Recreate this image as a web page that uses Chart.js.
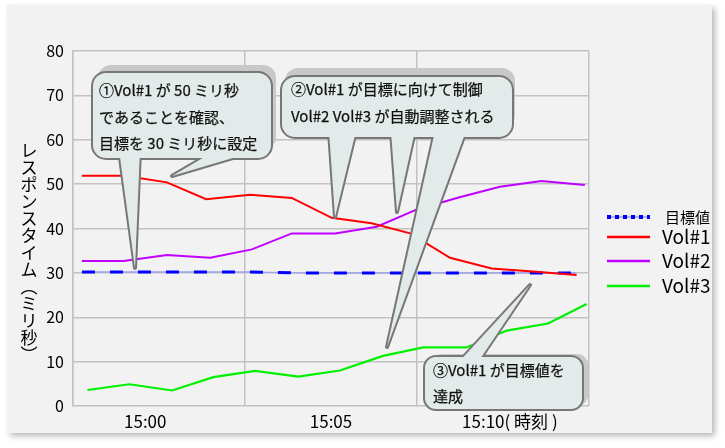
<!DOCTYPE html>
<html lang="ja">
<head>
<meta charset="utf-8">
<script src="https://cdn.jsdelivr.net/npm/chart.js@4.4.1/dist/chart.umd.min.js"></script>
<style>
    html, body { margin: 0; padding: 0; background: #ffffff; }
    #wrap { width: 725px; height: 448px; position: relative; }
</style>
</head>
<body>
<div id="wrap"><canvas id="grafico" width="725" height="448"></canvas></div>
<script>
// ---- datos ----
const timeLabels = ['15:00', '15:05', '15:10( 時刻 )'];
const timeLabelMinutes = [2.1, 7.5, 12.7];
const gridMinutes = [0, 5, 10, 15];
const yTicks = [0, 10, 20, 30, 40, 50, 60, 70, 80];

const seriesNames = ['目標値', 'Vol#1', 'Vol#2', 'Vol#3'];

const minutesTarget = [0.26, 1.49, 2.73, 3.87, 5.15, 6.36, 7.52, 8.68, 9.80, 10.96, 12.17, 13.37, 14.64];
const target = [30.2, 30.2, 30.2, 30.2, 30.2, 30.0, 30.0, 30.0, 30.0, 30.0, 30.0, 30.0, 30.0];

const minutesVol1 = [0.26, 1.49, 2.73, 3.87, 5.15, 6.36, 7.52, 8.68, 9.80, 10.96, 12.17, 13.37, 14.64];
const vol1 = [51.9, 51.9, 50.4, 46.6, 47.6, 46.9, 42.4, 41.2, 38.9, 33.4, 31.0, 30.3, 29.5];

const minutesVol2 = [0.26, 1.47, 2.73, 3.99, 5.20, 6.36, 7.62, 8.83, 10.00, 11.21, 12.41, 13.62, 14.88];
const vol2 = [32.7, 32.7, 34.0, 33.4, 35.3, 38.9, 38.9, 40.4, 44.3, 47.0, 49.4, 50.7, 49.8];

const minutesVol3 = [0.42, 1.64, 2.88, 4.08, 5.29, 6.55, 7.76, 9.01, 10.18, 11.44, 12.61, 13.81, 14.93];
const vol3 = [3.6, 4.9, 3.5, 6.5, 7.9, 6.6, 8.0, 11.3, 13.2, 13.2, 17.0, 18.6, 23.0];

const yTitle = 'レスポンスタイム（ミリ秒）';
const note1 = ['①Vol#1 が 50 ミリ秒', 'であることを確認、', '目標を 30 ミリ秒に設定'];
const note2 = ['②Vol#1 が目標に向けて制御', 'Vol#2 Vol#3 が自動調整される'];
const note3 = ['③Vol#1 が目標値を', '達成'];

const FONT = '"Noto Sans CJK JP", "Noto Sans", sans-serif';
const GRID = '#c2c2c2';

// convierte dos listas en puntos {x, y}
function puntos(xs, ys) {
    return xs.map((x, i) => ({ x: x, y: ys[i] }));
}

// fondo del panel con sombra
const panelPlugin = {
    id: 'panel',
    beforeDraw(chart) {
        const ctx = chart.ctx;
        ctx.save();
        ctx.fillStyle = '#ffffff';
        ctx.fillRect(0, 0, chart.width, chart.height);
        ctx.shadowColor = 'rgba(0,0,0,0.28)';
        ctx.shadowBlur = 6;
        ctx.shadowOffsetX = 3;
        ctx.shadowOffsetY = 3;
        ctx.fillStyle = '#f2f2f2';
        ctx.fillRect(7, 5, 705, 428);
        ctx.restore();
    }
};

// título vertical del eje Y (caracteres en pie)
const yTitlePlugin = {
    id: 'yTitle',
    afterDraw(chart) {
        const ctx = chart.ctx;
        const verticales = { '（': '\uFE35', '）': '\uFE36' };
        ctx.save();
        ctx.fillStyle = '#000';
        ctx.font = '17px ' + FONT;
        ctx.textAlign = 'center';
        ctx.textBaseline = 'middle';
        let y = 151;
        for (const c of yTitle) {
            ctx.fillText(verticales[c] || c, 29, y);
            y += 17;
        }
        ctx.restore();
    }
};

// leyenda propia a la derecha
const leyendaPlugin = {
    id: 'leyenda',
    afterDraw(chart) {
        const ctx = chart.ctx;
        const filas = [217, 237, 261, 286];
        const estilos = [
            { color: '#0000ff', width: 4, dash: [4, 4] },
            { color: '#ff0000', width: 2.5, dash: [] },
            { color: '#bf00ff', width: 2.5, dash: [] },
            { color: '#00f000', width: 2.5, dash: [] }
        ];
        ctx.save();
        seriesNames.forEach((nombre, i) => {
            const y = filas[i];
            const e = estilos[i];
            if (i === 0) {
                ctx.strokeStyle = '#7070ff';
                ctx.lineWidth = 1;
                ctx.beginPath();
                ctx.moveTo(607, y);
                ctx.lineTo(650, y);
                ctx.stroke();
            }
            ctx.strokeStyle = e.color;
            ctx.lineWidth = e.width;
            ctx.setLineDash(e.dash);
            ctx.beginPath();
            ctx.moveTo(607, y);
            ctx.lineTo(650, y);
            ctx.stroke();
            ctx.setLineDash([]);
            ctx.fillStyle = '#000';
            ctx.textBaseline = 'middle';
            ctx.font = (i === 0 ? '15px ' : '19px ') + FONT;
            ctx.fillText(nombre, i === 0 ? 665 : 662, y);
        });
        ctx.restore();
    }
};

// globos de comentario
const globos = [
    { caja: [93, 73, 178, 85], r: 13, sombra: [5, -8], textoX: 99, lineasY: [90, 117, 143], lineas: note1,
      colas: [[[119, 150], [140, 150], [135, 268]], [[213, 152], [253, 152], [172, 176]]] },
    { caja: [282, 77, 230, 60], r: 13, sombra: [3, -9], textoX: 291, lineasY: [89, 116], lineas: note2,
      colas: [[[329, 131], [356, 131], [335, 217]], [[391, 131], [415, 131], [397, 212]], [[435, 131], [466, 131], [387, 347]]] },
    { caja: [425, 357, 157, 52], r: 11, sombra: [6, -3], textoX: 433, lineasY: [370, 396], lineas: note3,
      colas: [[[456, 365], [476, 365], [530, 285]]] }
];

function rutaCaja(ctx, x, y, w, h, r) {
    ctx.beginPath();
    ctx.roundRect(x, y, w, h, r);
}

function rutaCola(ctx, c) {
    ctx.beginPath();
    ctx.moveTo(c[0][0], c[0][1]);
    ctx.lineTo(c[2][0], c[2][1]);
    ctx.lineTo(c[1][0], c[1][1]);
    ctx.closePath();
}

const globosPlugin = {
    id: 'globos',
    afterDatasetsDraw(chart) {
        const ctx = chart.ctx;
        ctx.save();
        globos.forEach(g => {
            const [x, y, w, h] = g.caja;
            // sombra
            ctx.fillStyle = '#c8c8c8';
            rutaCaja(ctx, x + g.sombra[0], y + g.sombra[1], w, h, g.r);
            ctx.fill();
            // contorno (trazo ancho, luego relleno encima)
            ctx.strokeStyle = '#777777';
            ctx.lineWidth = 4;
            ctx.lineJoin = 'round';
            rutaCaja(ctx, x, y, w, h, g.r);
            ctx.stroke();
            g.colas.forEach(c => { rutaCola(ctx, c); ctx.stroke(); });
            ctx.fillStyle = '#e3eaea';
            rutaCaja(ctx, x, y, w, h, g.r);
            ctx.fill();
            g.colas.forEach(c => { rutaCola(ctx, c); ctx.fill(); });
            // texto, un poco más grueso como en el original
            ctx.fillStyle = '#111';
            ctx.strokeStyle = '#111';
            ctx.lineWidth = 0.25;
            ctx.lineJoin = 'miter';
            ctx.font = '15px ' + FONT;
            ctx.textBaseline = 'middle';
            g.lineas.forEach((t, i) => {
                ctx.fillText(t, g.textoX, g.lineasY[i]);
                ctx.strokeText(t, g.textoX, g.lineasY[i]);
            });
        });
        ctx.restore();
    }
};

Chart.defaults.font.family = FONT;
Chart.defaults.color = '#000';

new Chart(document.getElementById('grafico'), {
    type: 'line',
    data: {
        datasets: [
            { label: 'Vol#1', data: puntos(minutesVol1, vol1), borderColor: '#ff0000', borderWidth: 2 },
            { label: 'Vol#2', data: puntos(minutesVol2, vol2), borderColor: '#bf00ff', borderWidth: 2 },
            { label: 'Vol#3', data: puntos(minutesVol3, vol3), borderColor: '#00f000', borderWidth: 2.2 },
            { label: '目標値', data: puntos(minutesTarget, target), borderColor: '#0000ff', borderWidth: 3, borderDash: [13, 15] },
            { label: '目標値 base', data: puntos(minutesTarget, target), borderColor: '#a0a0f0', borderWidth: 1.5 }
        ]
    },
    options: {
        responsive: false,
        animation: false,
        layout: { padding: { top: 51, right: 136, bottom: 0, left: 0 } },
        elements: { point: { radius: 0 }, line: { tension: 0 } },
        plugins: { legend: { display: false }, tooltip: { enabled: false } },
        scales: {
            x: {
                type: 'linear', min: 0, max: 15,
                afterBuildTicks: s => { s.ticks = gridMinutes.map(v => ({ value: v })); },
                afterFit: s => { s.height = 0; },
                ticks: { display: false },
                grid: { color: GRID, lineWidth: 1.5, drawTicks: false },
                border: { display: false }
            },
            xl: {
                type: 'linear', position: 'bottom', min: 0, max: 15,
                afterBuildTicks: s => { s.ticks = timeLabelMinutes.map(v => ({ value: v })); },
                afterFit: s => { s.height = 42; },
                ticks: {
                    autoSkip: false, maxRotation: 0, padding: 5,
                    font: { size: 17 },
                    callback: (v, i) => timeLabels[i]
                },
                grid: { display: false, drawTicks: false },
                border: { display: false }
            },
            y: {
                min: 0, max: 80,
                afterBuildTicks: s => { s.ticks = yTicks.map(v => ({ value: v })); },
                afterFit: s => { s.width = 73; },
                ticks: { padding: 9, font: { size: 16 } },
                grid: { color: GRID, lineWidth: 1.5, drawTicks: false },
                border: { color: GRID, width: 1.5 }
            }
        }
    },
    plugins: [panelPlugin, yTitlePlugin, leyendaPlugin, globosPlugin]
});
</script>
</body>
</html>
